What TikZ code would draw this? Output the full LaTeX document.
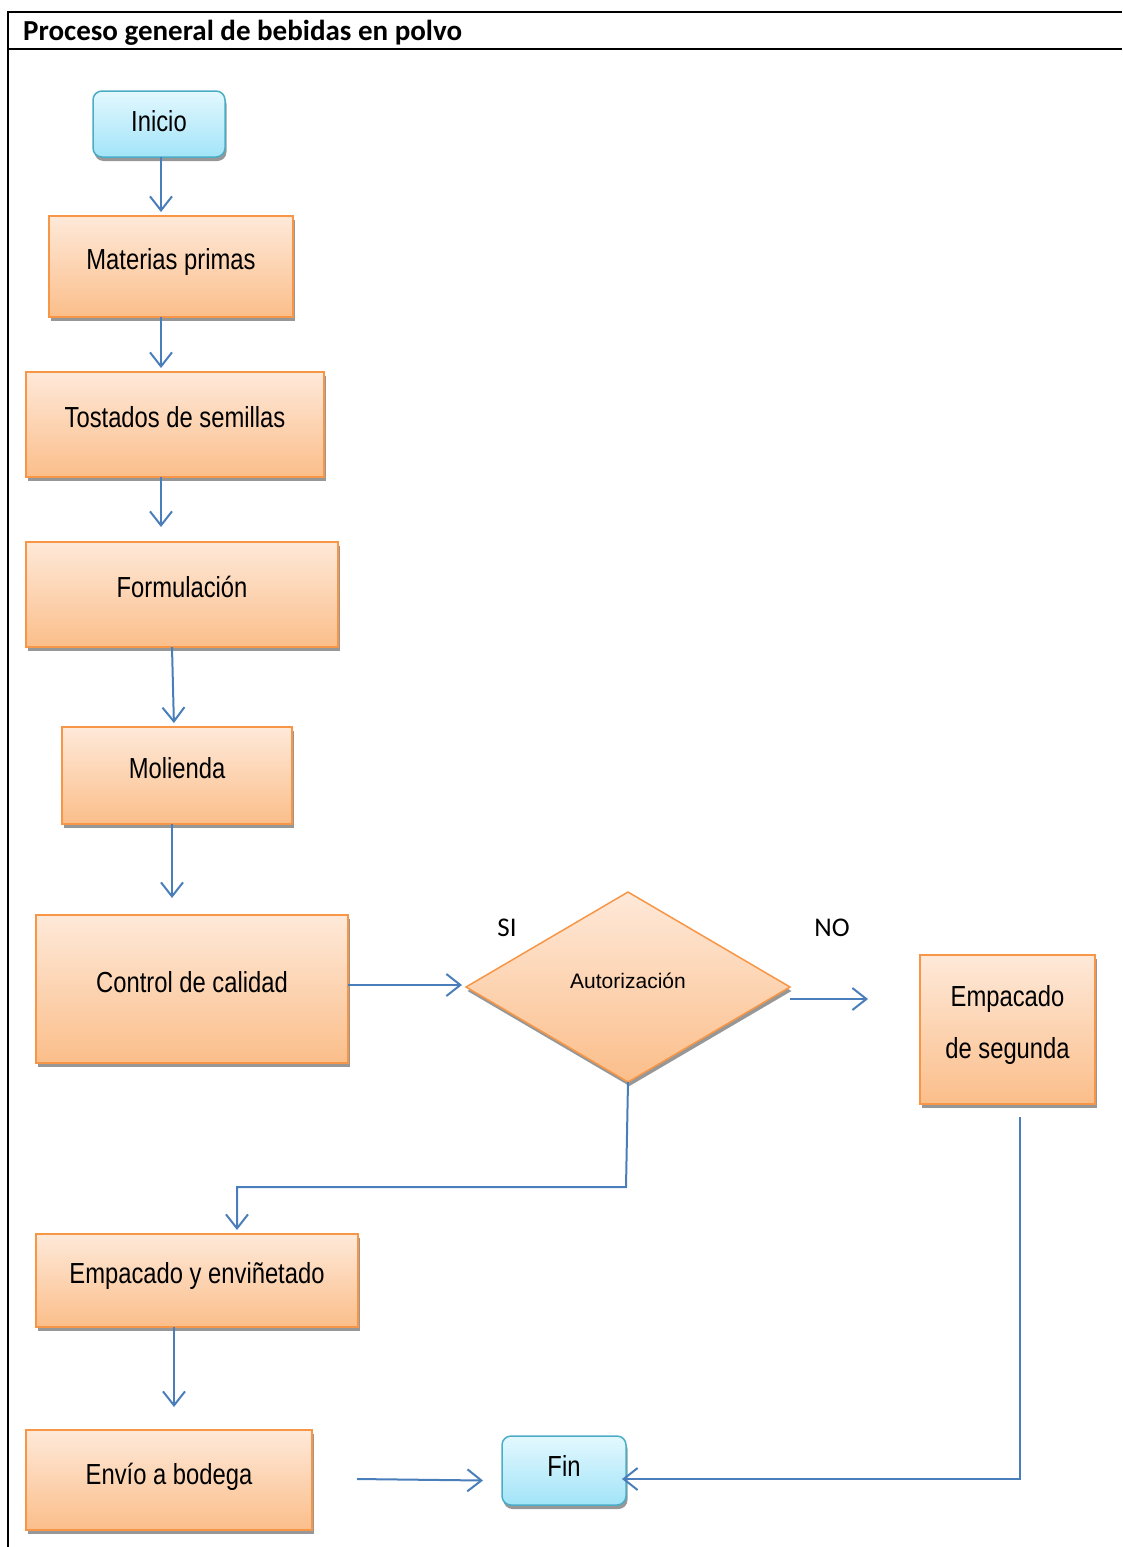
\documentclass[tikz,border=0pt]{standalone}
\usepackage{fontspec}
\setmainfont{Liberation Sans}
\newfontfamily\narrowf[FakeStretch=0.82]{Liberation Sans}
\newfontfamily\calib{Carlito}
\usetikzlibrary{shapes.geometric,arrows.meta,shadows,calc}
\definecolor{ortop}{HTML}{FEE9D9}
\definecolor{orbot}{HTML}{FBBE8A}
\definecolor{orbord}{HTML}{F79646}
\definecolor{cytop}{HTML}{E3F8FE}
\definecolor{cybot}{HTML}{A2E4F8}
\definecolor{cybord}{HTML}{4BACC6}
\definecolor{arrblue}{HTML}{4A7EBB}
\tikzset{
  shad/.style={drop shadow={shadow xshift=1.5pt,shadow yshift=-4pt,fill=black!45,opacity=0.9}},
  proc/.style={draw=orbord,line width=1.5pt,top color=ortop,bottom color=orbot,shad,
    inner sep=0pt,outer sep=0pt,align=center,text height=21pt,text depth=15pt,
    font=\narrowf\fontsize{29}{34}\selectfont},
  term/.style={draw=cybord,line width=1.5pt,rounded corners=9pt,top color=cytop,bottom color=cybot,shad,
    inner sep=0pt,outer sep=0pt,text height=21pt,font=\narrowf\fontsize{29}{34}\selectfont},
  decis/.style={diamond,draw=orbord,line width=1.5pt,top color=ortop,bottom color=orbot,shad,
    inner sep=0pt,outer sep=0pt,text height=15pt,text depth=12pt,font=\fontsize{21}{24}\selectfont},
  arr/.style={draw=arrblue,line width=2pt,-{Straight Barb[length=14pt,width=22pt]}},
  lbl/.style={font=\calib\fontsize{27}{30}\selectfont,inner sep=0pt},
  frame/.style={line width=2pt,draw=black}
}
\begin{document}
\begin{tikzpicture}[x=1pt,y=-1pt]
\useasboundingbox (0,0) rectangle (1122,1547);
% table frame
\draw[frame] (8,12) -- (1122,12);
\draw[frame] (8,49) -- (1122,49);
\draw[frame] (8,11) -- (8,1547);
\node[anchor=base west,inner sep=0pt,font=\calib\bfseries\fontsize{29}{32}\selectfont] (title) at (23,40) {Proceso general de bebidas en polvo};

% nodes
\node[term,text depth=6pt,minimum width=132pt,minimum height=66pt] (ini) at (159,124) {Inicio};
\node[proc,minimum width=244pt,minimum height=101pt] (mat) at (171,266.5) {Materias primas};
\node[proc,minimum width=298pt,minimum height=105pt] (tos) at (175,424.5) {Tostados de semillas};
\node[proc,minimum width=312pt,minimum height=105pt] (form) at (182,594.5) {Formulación};
\node[proc,minimum width=230pt,minimum height=97pt] (mol) at (177,775.5) {Molienda};
\node[proc,minimum width=312pt,minimum height=148pt] (ctrl) at (192,989) {Control de calidad};
\node[decis,minimum width=324pt,minimum height=190pt] (dia) at (628,987) {Autorización};
\node[proc,text height=73pt,text depth=15pt,minimum width=175pt,minimum height=149pt,font=\narrowf\fontsize{29}{52}\selectfont] (seg) at (1007.5,1029.5) {Empacado\\de segunda};
\node[proc,minimum width=322pt,minimum height=93pt] (emp) at (197,1280.5) {Empacado y enviñetado};
\node[proc,text depth=13pt,minimum width=286pt,minimum height=100pt] (env) at (169,1480) {Envío a bodega};
\node[term,text depth=9pt,minimum width=124pt,minimum height=69pt] (fin) at (564,1470.5) {Fin};

\node[lbl] (si) at (507,928) {SI};
\node[lbl] (no) at (832,928) {NO};
\coordinate (noend) at (868,999);

% connectors
\draw[arr,shorten >=4pt] ($(ini.south)+(2,0)$) coordinate (a1) -- (a1 |- mat.north);
\draw[arr,shorten >=4pt] ($(mat.south)+(-10,0)$) coordinate (a2) -- (a2 |- tos.north);
\draw[arr,shorten >=15pt] ($(tos.south)+(-14,0)$) coordinate (a3) -- (a3 |- form.north);
\draw[arr,shorten >=4pt] ($(form.south)+(-10,0)$) -- ($(mol.north)+(-3,0)$);
\draw[arr,shorten >=17pt] ($(mol.south)+(-5,0)$) coordinate (a5) -- (a5 |- ctrl.north);
\draw[arr,shorten >=4pt] ($(ctrl.east)+(0,-4)$) coordinate (a6) -- (a6 -| dia.west);
\draw[arr] ($(dia.east)+(0,12)$) -- (noend);
\draw[arr,shorten >=4pt] (dia.south) -- ($(dia.south)+(-2,105)$) -| ($(emp.north)+(40,0)$);
\draw[arr,shorten >=23pt] ($(emp.south)+(-23,0)$) coordinate (a8) -- (a8 |- env.north);
\draw[arr] ($(env.east)+(45,-1)$) -- ($(fin.west)+(-19,10)$);
\draw[arr,shorten >=-4pt] ($(seg.south)+(12.5,13)$) |- ($(fin.east)+(0,8.5)$);
\end{tikzpicture}
\end{document}
